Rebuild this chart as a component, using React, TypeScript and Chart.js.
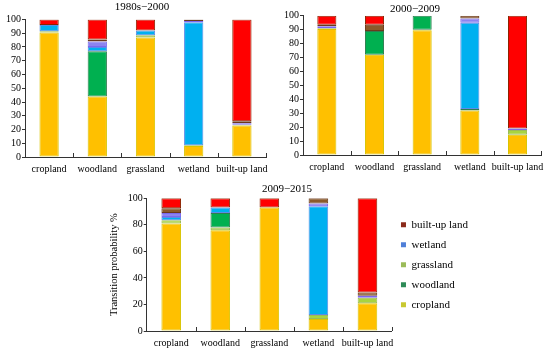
import React, { useEffect, useRef } from "react";
import { Chart, registerables } from "chart.js";
Chart.register(...registerables);

const categories = ["cropland", "woodland", "grassland", "wetland", "built-up land"];
const periodTitles = ["1980s\u22122000", "2000\u22122009", "2009\u22122015"];
const yTitle = "Transition probability %";

// 1980s–2000 (stack order: cropland, grassland, woodland, wetland, unused, other, built-up)
const cropland1 = [90.5, 44, 87, 8, 23];
const grassland1 = [1, 0, 1.5, 0.5, 0.5];
const woodland1 = [0, 33, 0, 0, 0];
const wetland1 = [4.5, 3, 3.5, 89.5, 0];
const unused1 = [0, 4, 0, 1, 1];
const other1 = [0, 1.5, 0, 1, 1.5];
const builtup1 = [4, 14.5, 8, 0, 74];

// 2000–2009
const cropland2 = [90.5, 72, 89.5, 32, 14.5];
const grassland2 = [0.5, 0, 0.5, 0, 3.5];
const woodland2 = [0, 17, 10, 1, 0];
const wetland2 = [0, 0, 0, 62, 0];
const unused2 = [1.5, 0, 0, 3, 1];
const other2 = [1, 4.5, 0, 2, 0];
const builtup2 = [6.5, 6.5, 0, 0, 81];

// 2009–2015
const cropland3 = [81, 76, 93, 9, 21];
const grassland3 = [2.5, 2, 0, 3, 4];
const woodland3 = [0, 11, 0, 0, 0];
const wetland3 = [2.5, 4, 0, 82, 0];
const unused3 = [3, 0, 0, 2, 1.5];
const other3 = [3.5, 0, 0, 4, 2.5];
const builtup3 = [7.5, 7, 7, 0, 71];

const legendNames = ["built-up land", "wetland", "grassland", "woodland", "cropland"];
const legendColors = ["#8B2A1A", "#4F7FD8", "#9BBB59", "#2E8B57", "#C8C830"];

const FONT = "'Liberation Serif', 'Times New Roman', serif";
Chart.defaults.font.family = FONT;
Chart.defaults.color = "#000";

const series = [
  { key: "cropland", bg: "#FFC000", bd: "#D8C400" },
  { key: "grassland", bg: "#A8D440", bd: "#9BBB59" },
  { key: "woodland", bg: "#00B050", bd: "#2E7D4F" },
  { key: "wetland", bg: "#00B0F0", bd: "#5B8BE8" },
  { key: "unused", bg: "#8C84F0", bd: "#7B68EE" },
  { key: "other", bg: "#8B5A2B", bd: "#6B3A1B" },
  { key: "built-up land", bg: "#FF0000", bd: "#8B2500" },
];

function makeDatasets(arrs: number[][]) {
  return series.map((s, i) => ({
    label: s.key,
    data: arrs[i],
    backgroundColor: s.bg,
    borderColor: s.bd,
    borderWidth: 1,
    borderSkipped: false,
    barPercentage: 0.4,
    categoryPercentage: 1,
  }));
}

const titlePlugin = {
  id: "panelTitle",
  afterDraw(chart: any) {
    const o = chart.options.plugins.panelTitle;
    if (!o) return;
    const ctx = chart.ctx;
    ctx.save();
    ctx.font = `11px ${FONT}`;
    ctx.fillStyle = "#000";
    ctx.textAlign = "center";
    ctx.textBaseline = "middle";
    ctx.fillText(o.text, o.x, o.y);
    ctx.restore();
  },
};

const innerTicks = {
  id: "innerTicks",
  afterDraw(chart: any) {
    const xs = chart.scales.x;
    const n = xs.getLabels().length;
    const ctx = chart.ctx;
    ctx.save();
    ctx.strokeStyle = "#333";
    ctx.lineWidth = 1;
    for (let i = 1; i <= n; i++) {
      const x = i < n ? (xs.getPixelForValue(i - 1) + xs.getPixelForValue(i)) / 2 : xs.right;
      const xx = Math.round(x) + 0.5;
      ctx.beginPath();
      ctx.moveTo(xx, xs.top);
      ctx.lineTo(xx, xs.top - 4);
      ctx.stroke();
    }
    ctx.restore();
  },
};

type Panel = {
  left: number; top: number; w: number; h: number;
  pad: { left: number; right: number; top: number; bottom: number };
  yW: number; xH: number; step: number;
  title: string; tx: number; ty: number;
  data: number[][]; legend: boolean; axisTitle: boolean;
};

const panels: Panel[] = [
  {
    left: 0, top: 0, w: 275, h: 175,
    pad: { left: 0, right: 9, top: 19.5, bottom: 0 }, yW: 25, xH: 18, step: 10,
    title: periodTitles[0], tx: 142, ty: 7.5,
    data: [cropland1, grassland1, woodland1, wetland1, unused1, other1, builtup1],
    legend: false, axisTitle: false,
  },
  {
    left: 275, top: 0, w: 275, h: 175,
    pad: { left: 0, right: 8, top: 15.7, bottom: 0 }, yW: 28, xH: 20, step: 10,
    title: periodTitles[1], tx: 140, ty: 9,
    data: [cropland2, grassland2, woodland2, wetland2, unused2, other2, builtup2],
    legend: false, axisTitle: false,
  },
  {
    left: 0, top: 176, w: 550, h: 176,
    pad: { left: 104, right: 72, top: 22.3, bottom: 0 }, yW: 42.7, xH: 21, step: 20,
    title: periodTitles[2], tx: 287, ty: 13,
    data: [cropland3, grassland3, woodland3, wetland3, unused3, other3, builtup3],
    legend: true, axisTitle: true,
  },
];

function PanelChart({ p }: { p: Panel }) {
  const ref = useRef<HTMLCanvasElement>(null);
  useEffect(() => {
    const chart = new Chart(ref.current as HTMLCanvasElement, {
      type: "bar",
      data: { labels: categories, datasets: makeDatasets(p.data) as any },
      plugins: [titlePlugin, innerTicks],
      options: {
        responsive: false,
        animation: false,
        devicePixelRatio: 1,
        layout: { padding: p.pad },
        scales: {
          x: {
            stacked: true,
            grid: { display: false, drawTicks: false },
            border: { display: true, color: "#333", width: 1 },
            ticks: { color: "#000", font: { size: 10, family: FONT }, padding: 6, maxRotation: 0, autoSkip: false },
            afterFit: (s: any) => { s.height = p.xH; },
          },
          y: {
            stacked: true,
            min: 0,
            max: 100,
            grid: { display: true, drawOnChartArea: false, drawTicks: true, tickLength: 3, color: "#333" },
            border: { display: true, color: "#333", width: 1 },
            ticks: { stepSize: p.step, autoSkip: false, color: "#000", font: { size: 10, family: FONT }, padding: 1 },
            title: {
              display: p.axisTitle,
              text: yTitle,
              color: "#000",
              font: { size: 10.5, family: FONT },
              padding: { top: 4, bottom: 4 },
            },
            afterFit: (s: any) => { s.width = p.yW; },
          },
        },
        plugins: {
          title: { display: false },
          tooltip: { enabled: false },
          panelTitle: { text: p.title, x: p.tx, y: p.ty },
          legend: {
            display: p.legend,
            position: "right",
            align: "center",
            fullSize: false,
            labels: {
              boxWidth: 5,
              boxHeight: 5,
              padding: 9,
              color: "#000",
              font: { size: 11, family: FONT },
              generateLabels: () =>
                legendNames.map((name, i) => ({
                  text: name,
                  fillStyle: legendColors[i],
                  strokeStyle: legendColors[i],
                  lineWidth: 0,
                  hidden: false,
                  datasetIndex: i,
                })),
            },
          },
        } as any,
      },
    });
    return () => chart.destroy();
  }, [p]);
  return (
    <canvas
      ref={ref}
      width={p.w}
      height={p.h}
      style={{ position: "absolute", left: p.left, top: p.top, width: p.w, height: p.h }}
    />
  );
}

export default function App() {
  return (
    <div style={{ position: "absolute", left: 0, top: 0, width: 550, height: 352, background: "#fff" }}>
      {panels.map((p, i) => (
        <PanelChart key={i} p={p} />
      ))}
    </div>
  );
}
